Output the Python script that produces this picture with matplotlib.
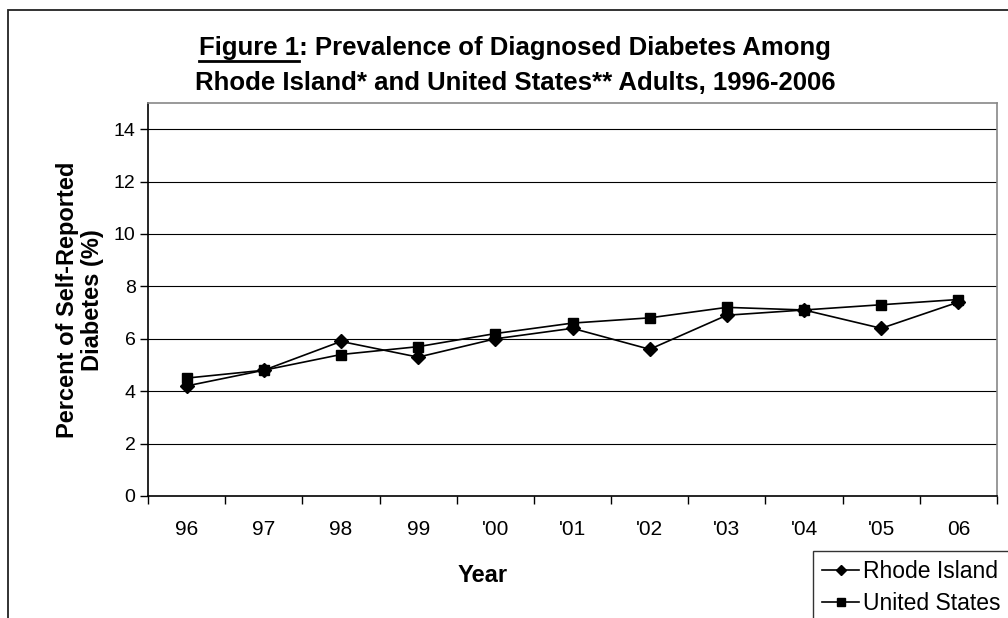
import matplotlib.pyplot as plt
import matplotlib.patches as mpatches
from matplotlib.lines import Line2D
import numpy as np

plt.rcParams['font.family'] = ['Liberation Sans', 'DejaVu Sans']

# Data
years = ['96', '97', '98', '99', "'00", "'01", "'02", "'03", "'04", "'05", '06']
rhode_island = [4.2, 4.8, 5.9, 5.3, 6.0, 6.4, 5.6, 6.9, 7.1, 6.4, 7.4]
united_states = [4.5, 4.8, 5.4, 5.7, 6.2, 6.6, 6.8, 7.2, 7.1, 7.3, 7.5]

W, H = 1008, 618
fig = plt.figure(figsize=(W / 100, H / 100), dpi=100)

# outer chart border (runs off the right and bottom)
fig.patches.append(mpatches.Rectangle((8 / W, -0.1), 1.2, 1 - 10 / H + 0.1,
                                      transform=fig.transFigure, fill=False,
                                      edgecolor='#222222', linewidth=1.3))

ax = fig.add_axes([148 / W, 1 - 496 / H, (997 - 148) / W, (496 - 103) / H])
x = np.arange(len(years))

ax.plot(x, rhode_island, color='black', linewidth=1.2, marker='D', markersize=7,
        label='Rhode Island', zorder=3)
ax.plot(x, united_states, color='black', linewidth=1.2, marker='s', markersize=6.5,
        label='United States', zorder=3)

ax.set_xlim(-0.5, len(years) - 0.5)
ax.set_ylim(0, 15)
ax.set_yticks(range(0, 15, 2))
ax.set_yticklabels([str(v) for v in range(0, 15, 2)], fontsize=14)
for v in range(2, 15, 2):
    ax.axhline(v, color='black', linewidth=0.8, zorder=1)

ax.set_xticks(x)
ax.set_xticklabels(years, fontsize=15)
ax.set_xticks(np.arange(-0.5, len(years), 1), minor=True)
ax.tick_params(axis='x', which='major', length=0, pad=17)
ax.tick_params(axis='x', which='minor', length=6, width=1, direction='out')
ax.tick_params(axis='y', length=6, width=1, direction='out', pad=3)

for side in ['top', 'right']:
    ax.spines[side].set_color('#888888')
    ax.spines[side].set_linewidth(1.2)
for side in ['left', 'bottom']:
    ax.spines[side].set_color('black')
    ax.spines[side].set_linewidth(1.2)

# axis titles
fig.text(483 / W, 1 - 576 / H, 'Year', ha='center', va='center',
         fontsize=17, fontweight='bold')
fig.text(80 / W, 1 - 300 / H, 'Percent of Self-Reported\nDiabetes (%)',
         ha='center', va='center', rotation=90, multialignment='center',
         fontsize=17, fontweight='bold', linespacing=1.1)

# title, with "Figure 1" underlined
t1 = fig.text(515 / W, 1 - 55 / H, 'Figure 1: Prevalence of Diagnosed Diabetes Among',
              ha='center', va='baseline', fontsize=18.5, fontweight='bold')
fig.text(515 / W, 1 - 90 / H, 'Rhode Island* and United States** Adults, 1996-2006',
         ha='center', va='baseline', fontsize=18.5, fontweight='bold')
fig.canvas.draw()
r = fig.canvas.get_renderer()
bb = t1.get_window_extent(r)
tmp = fig.text(0, 0, 'Figure 1', fontsize=18.5, fontweight='bold')
wb = tmp.get_window_extent(r)
tmp.remove()
uy = 1 - 61 / H
fig.add_artist(Line2D([bb.x0 / W, (bb.x0 + wb.width) / W], [uy, uy],
                      transform=fig.transFigure, color='black', linewidth=2.0))

leg = fig.legend(loc='upper left', bbox_to_anchor=(813 / W, 1 - 551 / H),
                 fontsize=16.5, frameon=True, fancybox=False, handlelength=1.6,
                 handletextpad=0.2, borderpad=0.4, labelspacing=0.4,
                 borderaxespad=0, markerscale=0.8)
leg.get_frame().set_edgecolor('black')
leg.get_frame().set_linewidth(1.0)

fig.savefig('out.png', dpi=100)
